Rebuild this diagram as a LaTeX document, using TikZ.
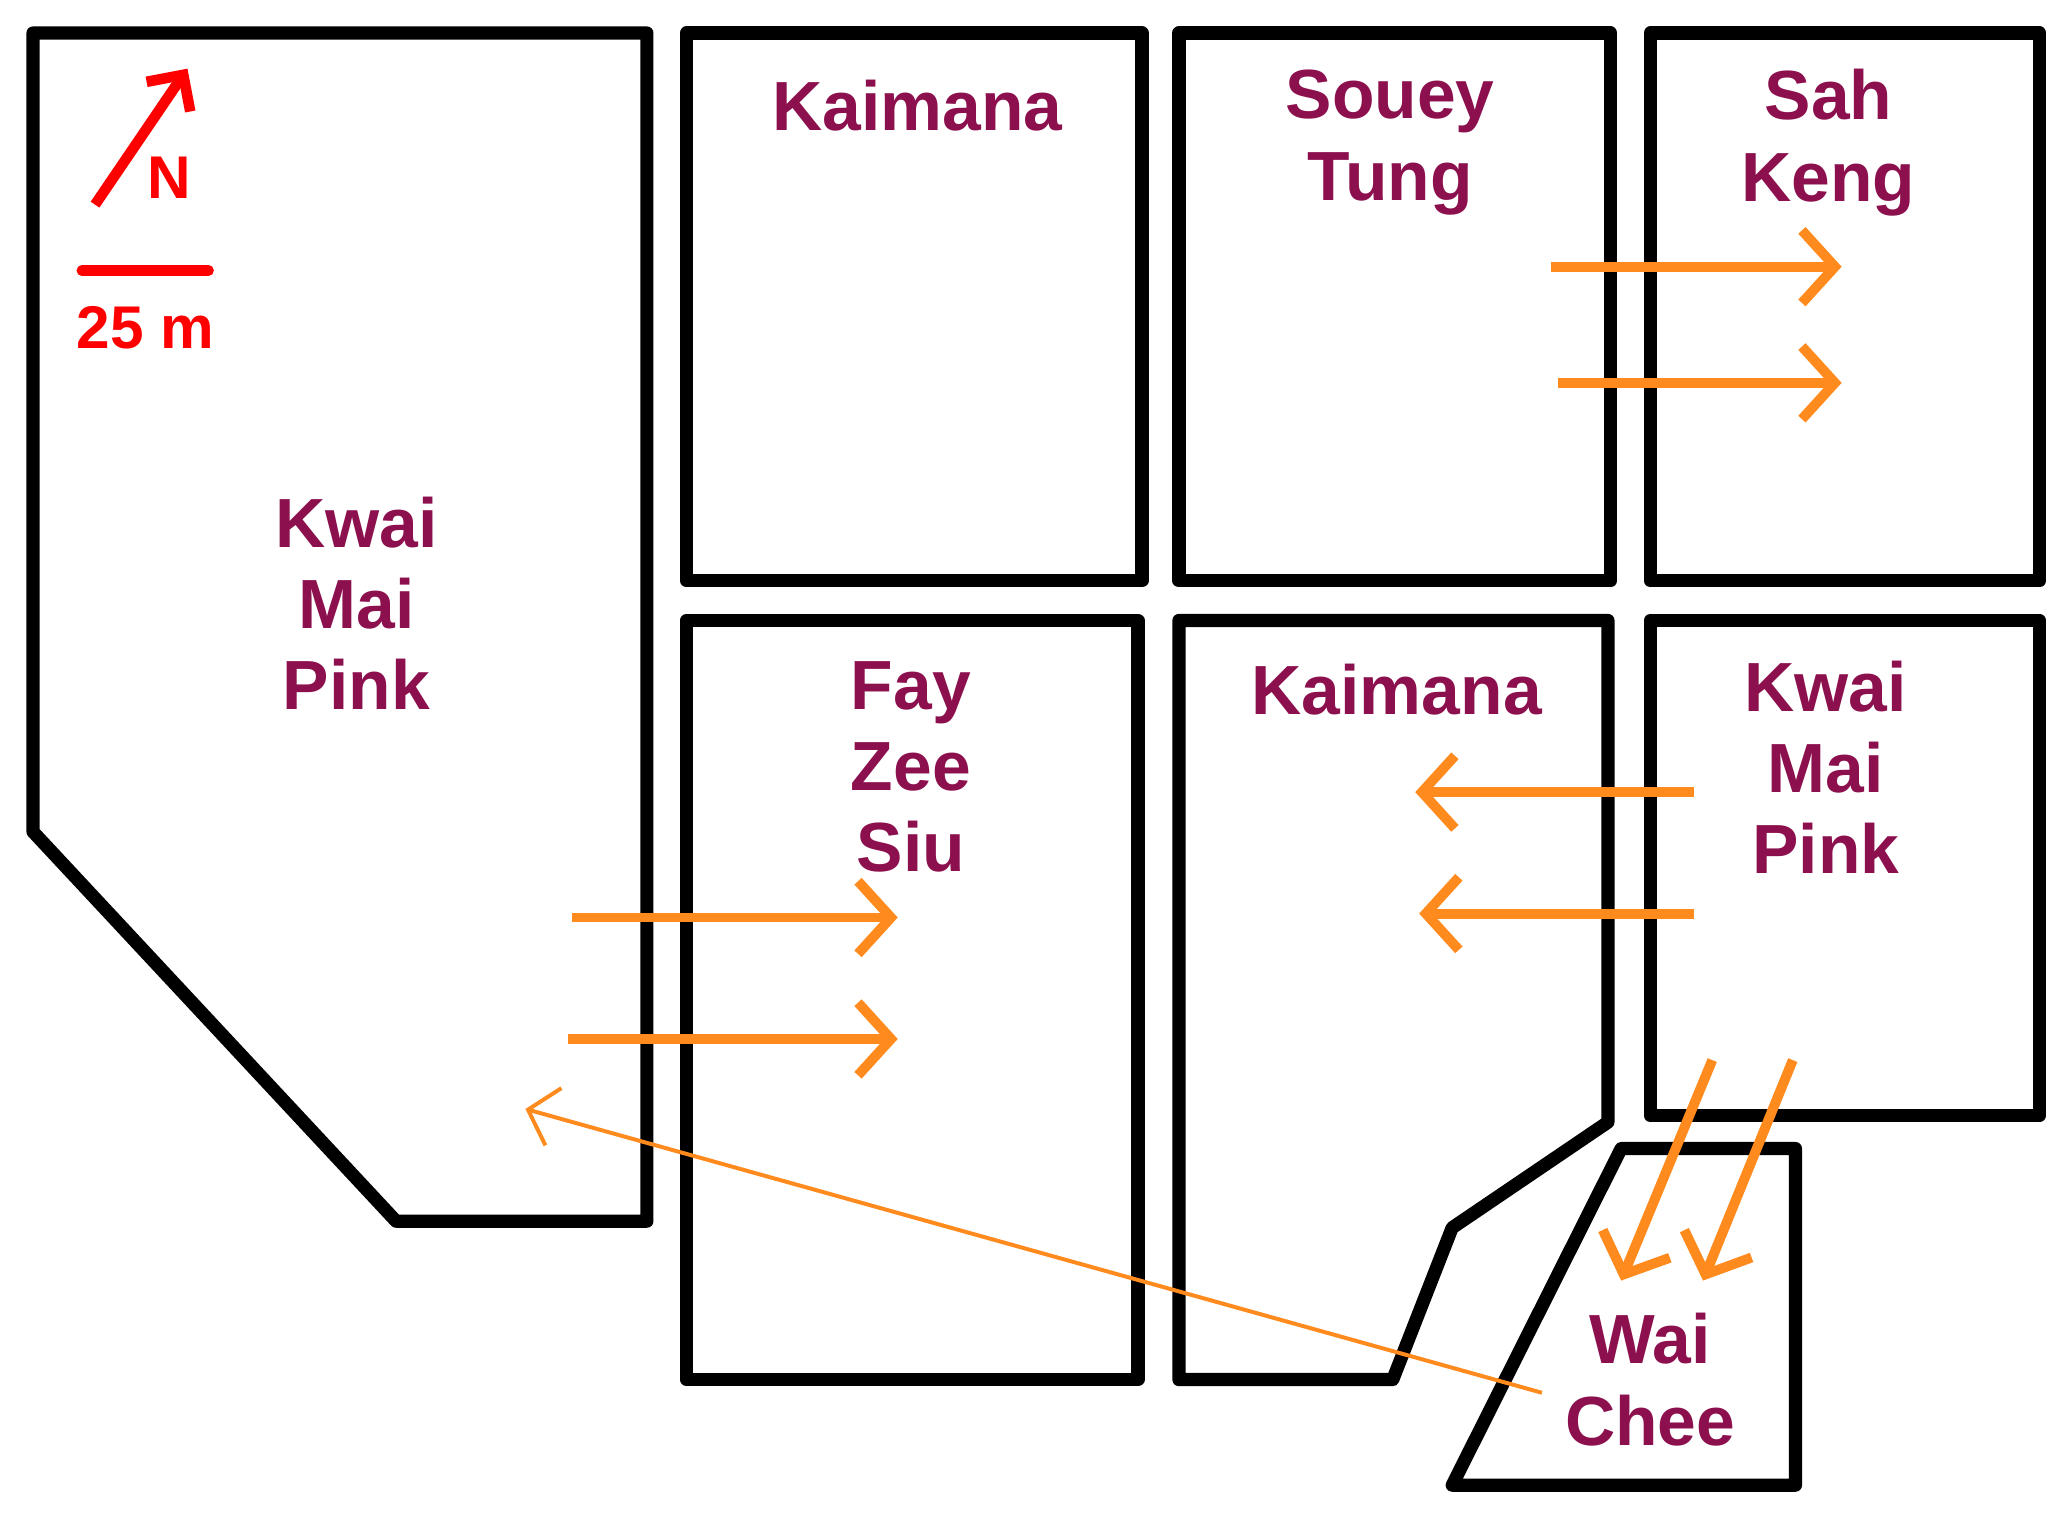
\documentclass[tikz,border=0pt]{standalone}
\usepackage{fontspec}
\setmainfont{Liberation Sans}
\usetikzlibrary{arrows.meta}
\definecolor{lab}{HTML}{8C0F4E}
\definecolor{org}{HTML}{FF8A1E}
\begin{document}
\begin{tikzpicture}[x=0.02cm,y=-0.02cm,
  lot/.style={line width=0.2cm,line join=round,black},
  lbl/.style={text=lab,font=\bfseries\fontsize{30}{35}\selectfont,align=center,inner sep=0pt},
  mv/.style={org,line width=0.15cm,-{Straight Barb[length=0.5cm,width=1.1cm,line width=0.15cm]}},
  thin/.style={org,line width=0.06cm,-{Straight Barb[length=0.4cm,width=0.9cm,line width=0.06cm]}}]
\useasboundingbox (0,0) rectangle (1568,1150);
\fill[white] (0,0) rectangle (1568,1150);
\draw[lot] (25,25)--(490,25)--(490,925)--(300,925)--(25,630)--cycle;
\draw[lot] (520,25) rectangle (865,440);
\draw[lot] (893,25) rectangle (1220,440);
\draw[lot] (1250,25) rectangle (1545,440);
\draw[lot] (520,470) rectangle (862,1045);
\draw[lot] (893,470)--(1218,470)--(1218,850)--(1100,930)--(1055,1045)--(893,1045)--cycle;
\draw[lot] (1250,470) rectangle (1545,845);
\draw[lot] (1228,870)--(1360,870)--(1360,1125)--(1100,1125)--cycle;
\node[lbl] (k1) at (695,80) {Kaimana};
\node[lbl] (st) at (1053,108) {Souey\\Tung};
\node[lbl] (sk) at (1385,108) {Sah\\Keng};
\node[lbl] (kmp1) at (270,457) {Kwai\\Mai\\Pink};
\node[lbl] (fzs) at (690,581) {Fay\\Zee\\Siu};
\node[lbl] (k2) at (1058,522) {Kaimana};
\node[lbl] (kmp2) at (1383,581) {Kwai\\Mai\\Pink};
\node[lbl] (wc) at (1250,1045) {Wai\\Chee};
\coordinate (a1) at (1175,202); \coordinate (b1) at (1395,202);
\coordinate (a2) at (1180,290); \coordinate (b2) at (1395,290);
\coordinate (a3) at (1283,600); \coordinate (b3) at (1072,600);
\coordinate (a4) at (1283,692); \coordinate (b4) at (1075,692);
\coordinate (a5) at (433,695); \coordinate (b5) at (680,695);
\coordinate (a6) at (430,787); \coordinate (b6) at (680,787);
\coordinate (a7) at (1297,803); \coordinate (b7) at (1228,970);
\coordinate (a8) at (1358,803); \coordinate (b8) at (1290,970);
\coordinate (a9) at (1168,1055); \coordinate (b9) at (398,840);
\foreach \i in {1,...,8} \draw[mv] (a\i)--(b\i);
\draw[thin] (a9)--(b9);
\coordinate (n0) at (72,155); \coordinate (n1) at (142,52);
\draw[red,line width=0.16cm,-{Straight Barb[length=0.4cm,width=0.8cm,line width=0.16cm]}] (n0)--(n1);
\node[text=red,font=\bfseries\fontsize{26}{30}\selectfont,inner sep=0pt] (N) at (128,135) {N};
\coordinate (s0) at (62,205); \coordinate (s1) at (158,205);
\draw[red,line width=0.16cm,line cap=round] (s0)--(s1);
\node[text=red,font=\bfseries\fontsize{26}{30}\selectfont,inner sep=0pt] (sc) at (110,248) {25 m};
\end{tikzpicture}
\end{document}
